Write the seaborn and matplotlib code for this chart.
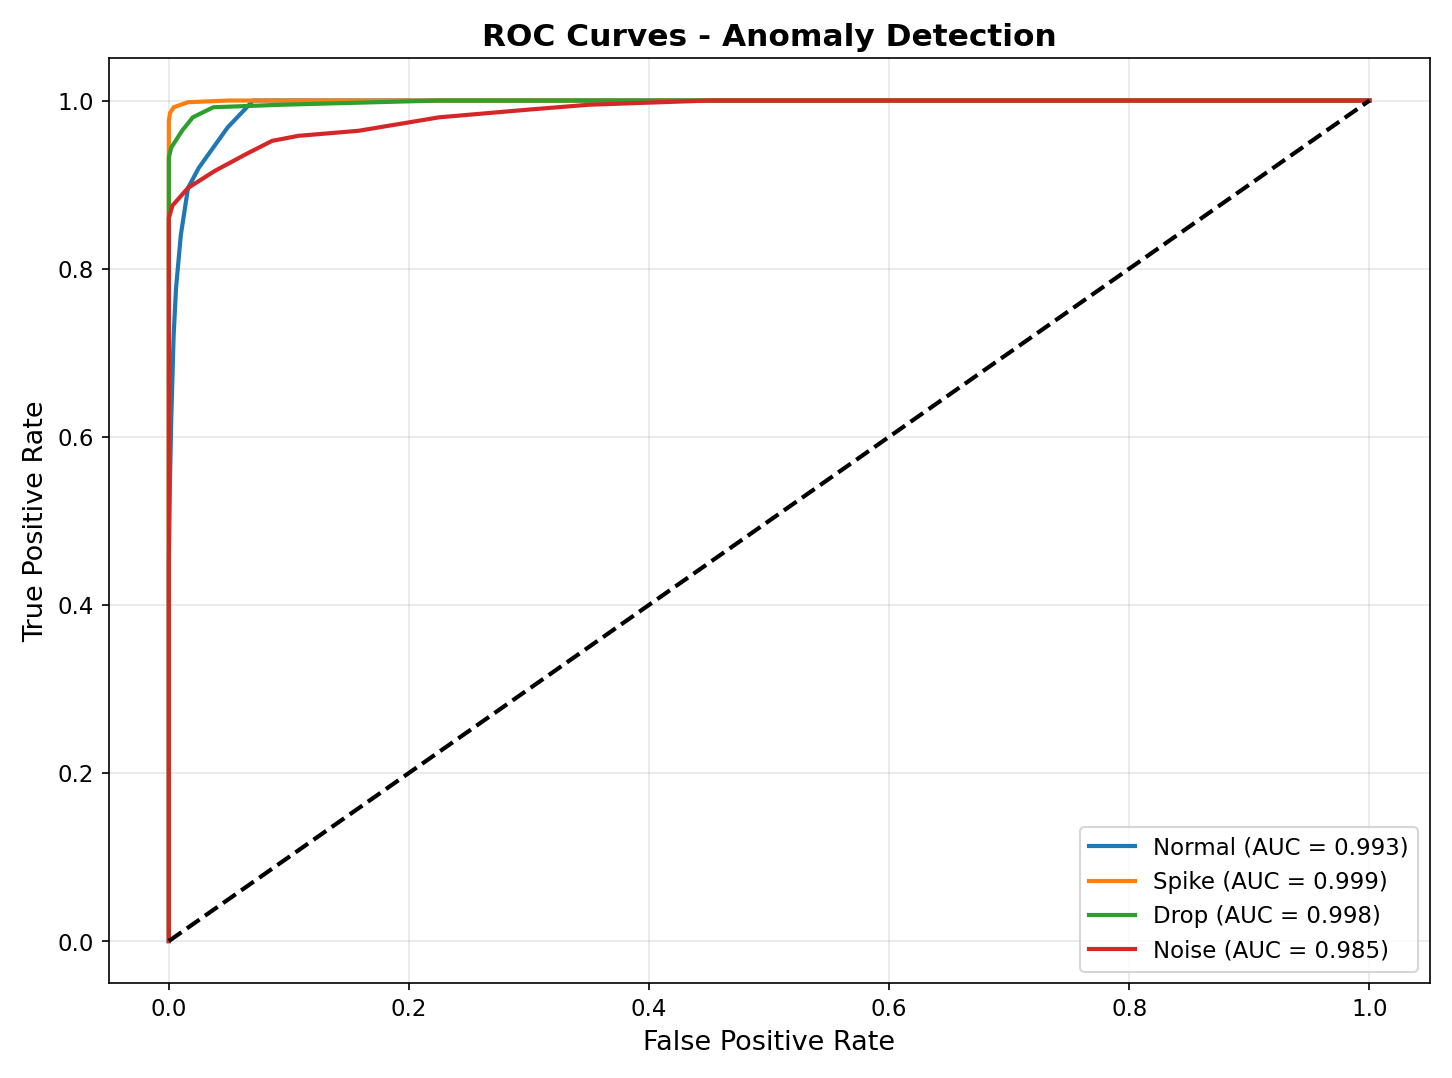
import pandas as pd
import numpy as np
import matplotlib.pyplot as plt
import seaborn as sns

# --- ROC points ---
roc_points = {
    "Normal (AUC = 0.993)": ([0.0, 0.0, 0.001, 0.002, 0.004, 0.006, 0.010, 0.016, 0.025, 0.033, 0.049, 0.065, 0.070, 1.0],
                             [0.0, 0.45, 0.55, 0.62, 0.72, 0.777, 0.84, 0.896, 0.92, 0.936, 0.968, 0.992, 1.0, 1.0]),
    "Spike (AUC = 0.999)":  ([0.0, 0.0, 0.0, 0.001, 0.004, 0.016, 0.05, 1.0],
                             [0.0, 0.93, 0.976, 0.985, 0.992, 0.998, 1.0, 1.0]),
    "Drop (AUC = 0.998)":   ([0.0, 0.0, 0.0, 0.002, 0.011, 0.020, 0.037, 0.094, 0.225, 1.0],
                             [0.0, 0.87, 0.932, 0.944, 0.964, 0.980, 0.992, 0.995, 1.0, 1.0]),
    "Noise (AUC = 0.985)":  ([0.0, 0.0, 0.003, 0.016, 0.038, 0.064, 0.086, 0.108, 0.158, 0.200, 0.225, 0.298, 0.35, 0.45, 1.0],
                             [0.0, 0.86, 0.875, 0.896, 0.916, 0.936, 0.952, 0.958, 0.964, 0.974, 0.980, 0.989, 0.995, 1.0, 1.0]),
}
colors = ["#1f77b4", "#ff7f0e", "#2ca02c", "#d62728"]

fig, ax = plt.subplots(figsize=(9.68, 7.19))
for (label, (fpr, tpr)), c in zip(roc_points.items(), colors):
    d = pd.DataFrame({"fpr": fpr, "tpr": tpr})
    sns.lineplot(data=d, x="fpr", y="tpr", sort=False, estimator=None, color=c, lw=2, label=label, ax=ax)
ax.plot([0, 1], [0, 1], "k--", lw=2)

ax.set_xlabel("False Positive Rate", fontsize=13)
ax.set_ylabel("True Positive Rate", fontsize=13)
ax.set_title("ROC Curves - Anomaly Detection", fontsize=15, fontweight="bold")
ax.tick_params(labelsize=11)
ax.legend(loc="lower right", fontsize=11)
ax.grid(True, alpha=0.3)
fig.tight_layout()
fig.savefig("out.png", dpi=150)
